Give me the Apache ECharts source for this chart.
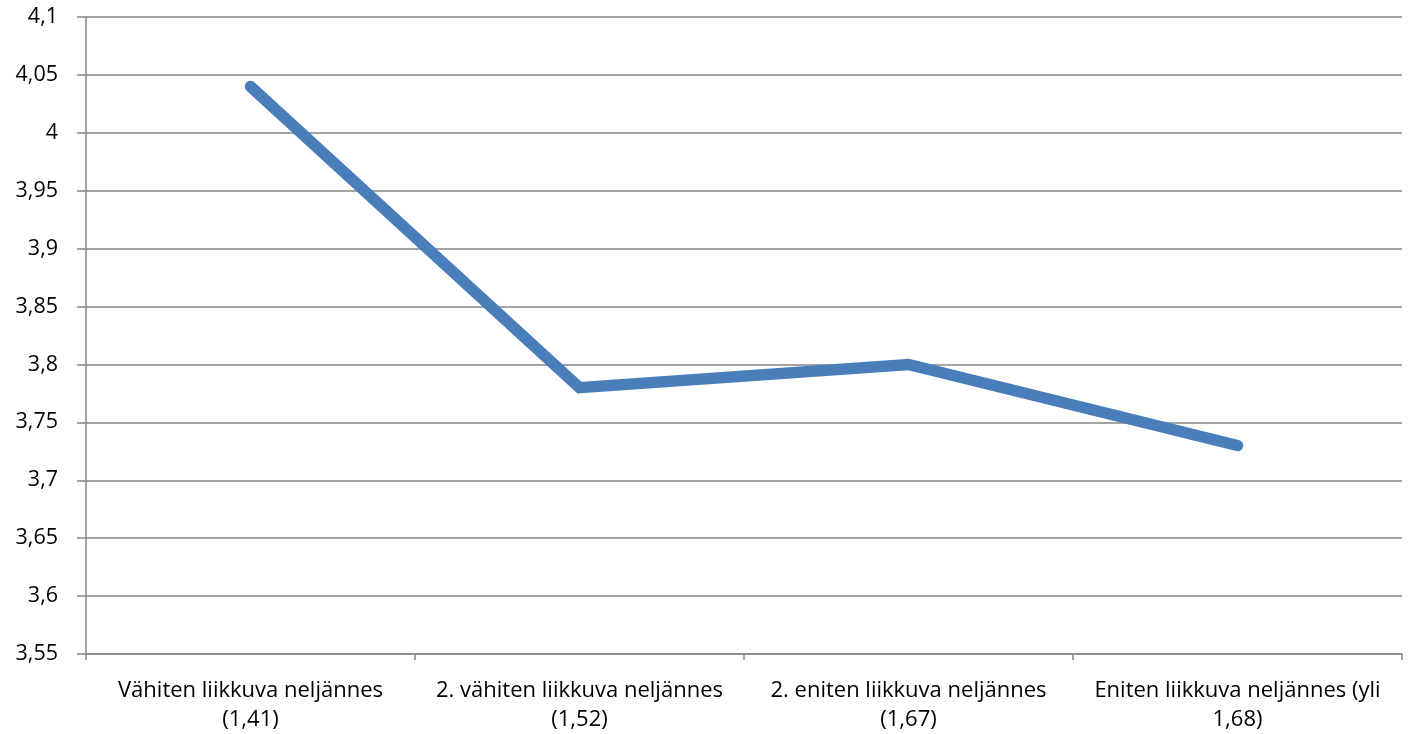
<!DOCTYPE html>
<html>
<head>
<meta charset="utf-8">
<script src="https://cdn.jsdelivr.net/npm/echarts@6/dist/echarts.min.js"></script>
<style>html,body{margin:0;padding:0;background:#fff}#c{width:1408px;height:734px}</style>
</head>
<body>
<div id="c"></div>
<script>
const categories = ["Vähiten liikkuva neljännes (1,41)", "2. vähiten liikkuva neljännes (1,52)", "2. eniten liikkuva neljännes (1,67)", "Eniten liikkuva neljännes (yli 1,68)"];
const categoryLabels = ["Vähiten liikkuva neljännes\n(1,41)", "2. vähiten liikkuva neljännes\n(1,52)", "2. eniten liikkuva neljännes\n(1,67)", "Eniten liikkuva neljännes (yli\n1,68)"];
const values = [4.04, 3.78, 3.80, 3.73];
const yMin = 3.55, yMax = 4.1, yStep = 0.05;

const chart = echarts.init(document.getElementById('c'));
const fontFamily = '"Open Sans", sans-serif';
chart.setOption({
  animation: false,
  grid: { left: 86, right: 6, top: 17, bottom: 80, containLabel: false },
  xAxis: {
    type: 'category',
    data: categories,
    boundaryGap: true,
    axisLine: { lineStyle: { color: '#868686', width: 1.5 } },
    axisTick: { show: true, interval: 0, length: 6, lineStyle: { color: '#868686', width: 1.5 } },
    axisLabel: {
      interval: 0, hideOverlap: false,
      margin: 22, color: '#000', fontSize: 22, fontFamily: fontFamily, lineHeight: 29,
      formatter: (v, i) => categoryLabels[i]
    },
    splitLine: { show: false }
  },
  yAxis: {
    type: 'value',
    min: yMin, max: yMax, interval: yStep,
    axisLine: { show: true, lineStyle: { color: '#868686', width: 1.5 } },
    axisTick: { show: true, length: 9, lineStyle: { color: '#868686', width: 1.5 } },
    axisLabel: {
      margin: 28, color: '#000', fontSize: 21.5, fontFamily: fontFamily,
      formatter: v => String(Math.round(v * 100) / 100).replace('.', ',')
    },
    splitLine: { show: true, lineStyle: { color: '#868686', width: 1.5 } }
  },
  series: [{
    type: 'line',
    data: values,
    symbol: 'none',
    lineStyle: { color: '#4a7ebb', width: 11.5, cap: 'round', join: 'miter' }
  }]
});
</script>
</body>
</html>
